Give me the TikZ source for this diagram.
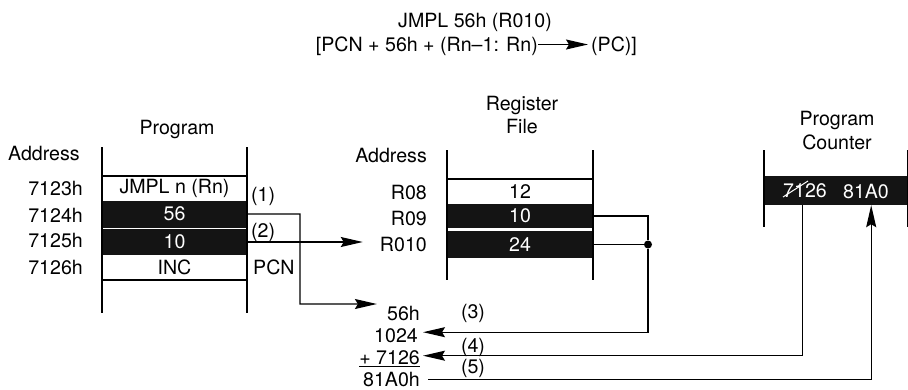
\documentclass[tikz,border=0pt]{standalone}
\usepackage{fontspec}
\setmainfont{TeX Gyre Heros}
\usetikzlibrary{arrows.meta,calc}
\begin{document}
\begin{tikzpicture}[x=1pt,y=-1pt,
  txt/.style={inner sep=0pt, font=\fontsize{19.6}{22}\selectfont},
  cell/.style={txt, minimum width=145pt, anchor=center},
  dark/.style={fill=black!92, text=white},
  conn/.style={line width=1.3pt},
  arr/.style={conn, -{Stealth[length=22pt,width=10pt,inset=3pt]}},
  wall/.style={line width=2pt},
  rulel/.style={line width=1.5pt}]
\useasboundingbox (0,0) rectangle (908,389);

% ---- title
\node[txt, anchor=base] (t1) at (475,27) {JMPL 56h (R010)};
\node[txt, anchor=base east] (t2a) at (538,51.5) {[PCN + 56h + (Rn–1: Rn)};
\node[txt, anchor=base west] (t2b) at (591,51.5) {(PC)]};
\draw[arr] ([yshift=7pt]t2a.base east) -- ([yshift=7pt,xshift=-3pt]t2b.base west);

% ---- program memory
\node[txt] (progT) at (177,129) {Program};
\node[txt, anchor=west] (addrP) at (8,153) {Address};
\node[cell, minimum height=25pt] (p1) at (174.5,188.5) {JMPL n (Rn)};
\node[cell, dark, minimum height=27pt] (p2) at (174.5,214) {56};
\node[cell, dark, minimum height=26pt] (p3) at (174.5,242) {10};
\node[cell, minimum height=25pt] (p4) at (174.5,267.5) {INC};
\draw[wall] (102,147) -- (102,313);
\draw[wall] (247,147) -- (247,313);
\draw[rulel] (102,176) -- (247,176);
\draw[rulel] (102,280) -- (247,280);
\node[txt, anchor=east] (a1) at (83,188) {7123h};
\node[txt, anchor=east] (a2) at (83,215) {7124h};
\node[txt, anchor=east] (a3) at (83,240) {7125h};
\node[txt, anchor=east] (a4) at (83,267) {7126h};
\node[txt, anchor=west] (l1) at (251,196) {(1)};
\node[txt, anchor=west] (l2) at (251,232) {(2)};
\node[txt, anchor=west] (pcn) at (253,267) {PCN};

% ---- register file
\node[txt] (regT1) at (522,105) {Register};
\node[txt] (regT2) at (522,126) {File};
\node[txt, anchor=east] (addrR) at (427,155) {Address};
\node[cell, minimum width=146pt, minimum height=25pt] (r1) at (520,191.5) {12};
\node[cell, dark, minimum width=146pt, minimum height=24pt] (r2) at (520,216) {10};
\node[cell, dark, minimum width=146pt, minimum height=27pt] (r3) at (520,244.5) {24};
\draw[wall] (447,150) -- (447,280);
\draw[wall] (593,150) -- (593,280);
\draw[rulel] (447,179) -- (593,179);
\node[txt, anchor=east] (lR08) at (427,192) {R08};
\node[txt, anchor=east] (lR09) at (427,218) {R09};
\node[txt, anchor=east] (lR010) at (427,244) {R010};

% ---- program counter
\node[txt] (pcT1) at (837,120) {Program};
\node[txt] (pcT2) at (837,142) {Counter};
\node[txt, dark, minimum width=144pt, minimum height=29pt] (pc) at (836,190.5) {};
\draw[wall] (764,150) -- (764,227);
\draw[line width=1pt] (907.5,150) -- (907.5,227);
\node[txt, text=white] (old) at (805,191) {7126};
\node[txt, text=white] (new) at (866,191) {81A0};
\draw[white, line width=1pt] ($(old.west)+(0,6)$) -- ($(old.west)+(25,-10)$);

% ---- calculation
\node[txt, anchor=base east] (n56) at (420,320) {56h};
\node[txt, anchor=base east] (n1024) at (418,342) {1024};
\node[txt, anchor=base east] (n7126) at (420,364.5) {\underline{+ 7126}};
\node[txt, anchor=base east] (n81A0) at (420,386.5) {81A0h};
\node[txt] (l3) at (473,313) {(3)};
\node[txt] (l4) at (473,347) {(4)};
\node[txt] (l5) at (473,368) {(5)};

% ---- connectors
\coordinate (j1) at (300,304);
\draw[arr] (p2.east) -| (j1) -- ([xshift=-10pt,yshift=9pt]n56.west);
\draw[arr] (p3.east) -- ([xshift=-17pt]lR010.west |- p3.east);
\node[circle, fill=black, inner sep=0pt, minimum size=8pt] (dot) at (648,244.5) {};
\draw[conn] (r2.east) -| (dot.north);
\draw[conn] (r3.east) -- (dot.west);
\draw[arr] (dot.south) |- ([xshift=5pt,yshift=3pt]n1024.east);
\draw[arr] ($(pc.south west)+(39,0)$) |- ([xshift=3pt,yshift=3pt]n7126.east);
\draw[arr] ([xshift=8pt]n81A0.east) -| ($(pc.south east)+(-37,0)$);
\end{tikzpicture}
\end{document}
